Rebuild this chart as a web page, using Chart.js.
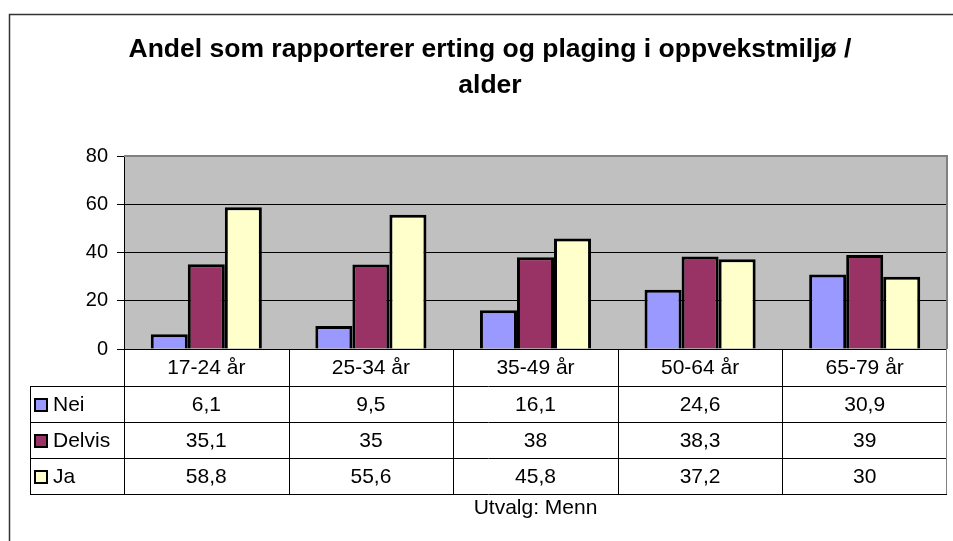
<!DOCTYPE html>
<html>
<head>
<meta charset="utf-8">
<script src="https://cdn.jsdelivr.net/npm/chart.js@4.4.1/dist/chart.umd.min.js"></script>
<style>
  html, body { margin: 0; padding: 0; background: #fff; }
  #wrap { width: 953px; height: 541px; }
</style>
</head>
<body>
<div id="wrap"><canvas id="chart" width="953" height="541"></canvas></div>
<script>
const titleLines = ['Andel som rapporterer erting og plaging i oppvekstmiljø /', 'alder'];
const categories = ['17-24 år', '25-34 år', '35-49 år', '50-64 år', '65-79 år'];
const seriesNames = ['Nei', 'Delvis', 'Ja'];
const nei = [6.1, 9.5, 16.1, 24.6, 30.9];
const delvis = [35.1, 35, 38, 38.3, 39];
const ja = [58.8, 55.6, 45.8, 37.2, 30];
const yTicks = [0, 20, 40, 60, 80];
const footnote = 'Utvalg: Menn';

const colors = ['#9999FF', '#993366', '#FFFFCC'];
const FONT = "'Liberation Sans', Arial, sans-serif";

const fmt = v => String(v).replace('.', ',');

// gray plot area + outer frame + title
const backdrop = {
  id: 'backdrop',
  beforeDraw(chart) {
    const { ctx, chartArea: a } = chart;
    ctx.save();
    ctx.fillStyle = '#C0C0C0';
    ctx.fillRect(a.left, a.top, a.right - a.left, a.bottom - a.top);

    ctx.strokeStyle = '#333';
    ctx.lineWidth = 1.5;
    ctx.beginPath();
    ctx.moveTo(9.5, 541);
    ctx.lineTo(9.5, 14.5);
    ctx.lineTo(953, 14.5);
    ctx.stroke();

    ctx.fillStyle = '#000';
    ctx.font = 'bold 26.5px ' + FONT;
    ctx.textAlign = 'center';
    ctx.textBaseline = 'middle';
    ctx.fillText(titleLines[0], 490, 50);
    ctx.fillText(titleLines[1], 490, 86);
    ctx.restore();
  },
  afterDatasetsDraw(chart) {
    const { ctx, chartArea: a } = chart;
    ctx.save();
    ctx.strokeStyle = '#808080';
    ctx.lineWidth = 2;
    ctx.beginPath();
    ctx.moveTo(a.left, a.top);
    ctx.lineTo(a.right, a.top);
    ctx.lineTo(a.right, a.bottom);
    ctx.stroke();
    ctx.restore();
  }
};

// data table under the plot
const dataTable = {
  id: 'dataTable',
  afterDraw(chart) {
    const { ctx, chartArea: a } = chart;
    const xs = chart.scales.x;
    const n = categories.length;
    const cw = (a.right - a.left) / n;
    const top = Math.round(a.bottom);
    const catH = 37, rowH = 36, legLeft = 30;
    const rows = [nei, delvis, ja];
    const bottom = top + catH + rowH * rows.length;

    ctx.save();
    ctx.strokeStyle = '#000';
    ctx.lineWidth = 1;
    ctx.beginPath();
    for (let r = 0; r <= rows.length; r++) {
      const y = top + catH + r * rowH + 0.5;
      ctx.moveTo(legLeft, y);
      ctx.lineTo(a.right, y);
    }
    ctx.moveTo(legLeft + 0.5, top + catH);
    ctx.lineTo(legLeft + 0.5, bottom);
    for (let i = 0; i < n; i++) {
      const x = Math.round(a.left + i * cw) + 0.5;
      ctx.moveTo(x, top);
      ctx.lineTo(x, bottom);
    }
    ctx.stroke();
    ctx.strokeStyle = '#808080';
    ctx.beginPath();
    ctx.moveTo(Math.round(a.right) - 0.5, top);
    ctx.lineTo(Math.round(a.right) - 0.5, bottom);
    ctx.stroke();

    ctx.fillStyle = '#000';
    ctx.font = '21px ' + FONT;
    ctx.textBaseline = 'middle';
    ctx.textAlign = 'center';
    categories.forEach((c, i) => {
      ctx.fillText(c, xs.getPixelForValue(i), top + catH / 2 + 1);
    });
    rows.forEach((vals, r) => {
      const yc = top + catH + r * rowH + rowH / 2 + 1;
      vals.forEach((v, i) => {
        ctx.fillText(fmt(v), xs.getPixelForValue(i), yc);
      });
    });

    ctx.textAlign = 'left';
    seriesNames.forEach((name, r) => {
      const yc = top + catH + r * rowH + rowH / 2 + 1;
      ctx.fillStyle = colors[r];
      ctx.fillRect(35, yc - 6, 12, 12);
      ctx.strokeStyle = '#000';
      ctx.lineWidth = 2;
      ctx.strokeRect(35, yc - 6, 12, 12);
      ctx.fillStyle = '#000';
      ctx.fillText(name, 53, yc);
    });

    ctx.textAlign = 'center';
    ctx.fillText(footnote, (a.left + a.right) / 2, bottom + 14);
    ctx.restore();
  }
};

new Chart(document.getElementById('chart'), {
  type: 'bar',
  data: {
    labels: categories,
    datasets: [nei, delvis, ja].map((d, i) => ({
      label: seriesNames[i],
      data: d,
      backgroundColor: colors[i],
      borderColor: '#000',
      borderWidth: 3,
      borderSkipped: 'bottom',
      barPercentage: 1,
      categoryPercentage: 0.675
    }))
  },
  options: {
    responsive: false,
    animation: false,
    layout: { padding: { top: 156, bottom: 192, left: 0, right: 6 } },
    plugins: {
      legend: { display: false },
      title: { display: false },
      tooltip: { enabled: false }
    },
    scales: {
      x: { display: false },
      y: {
        min: 0,
        max: 80,
        afterFit(scale) { scale.width = 124; },
        afterBuildTicks(scale) { scale.ticks = yTicks.map(v => ({ value: v })); },
        border: { display: true, color: '#000', width: 1 },
        grid: {
          color: ctx => (ctx.tick && ctx.tick.value === 80 ? 'rgba(0,0,0,0)' : '#000'),
          tickColor: '#000',
          tickLength: 7,
          lineWidth: 1
        },
        ticks: {
          padding: 9,
          color: '#000',
          font: { family: FONT, size: 20 }
        }
      }
    }
  },
  plugins: [backdrop, dataTable]
});
</script>
</body>
</html>
